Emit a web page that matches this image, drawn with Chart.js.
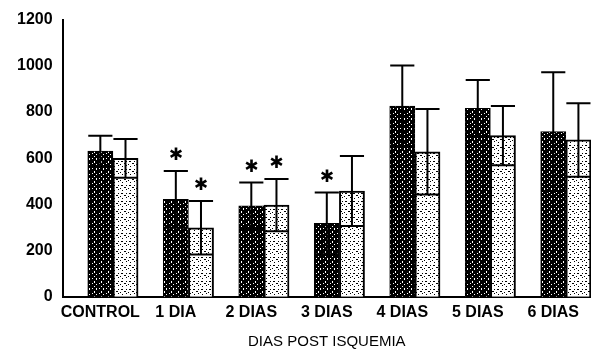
<!DOCTYPE html>
<html>
<head>
<meta charset="utf-8">
<script src="https://cdn.jsdelivr.net/npm/chart.js@4/dist/chart.umd.min.js"></script>
<style>
    html, body { margin: 0; padding: 0; background: #fff; overflow: hidden; }
    #wrap { width: 591px; height: 357px; position: relative; }
</style>
</head>
<body>
<div id="wrap"><canvas id="chart"></canvas></div>
<script>
// Data
const categories = ['CONTROL', '1 DIA', '2 DIAS', '3 DIAS', '4 DIAS', '5 DIAS', '6 DIAS'];
const darkMeans  = [631, 422, 394, 318, 826, 816, 715];
const darkSd     = [66, 123, 101, 134, 175, 123, 257];
const lightMeans = [599, 299, 397, 458, 628, 698, 679];
const lightSd    = [84, 116, 113, 151, 185, 128, 159];
const darkStar   = [false, true, true, true, false, false, false];
const lightStar  = [false, true, true, false, false, false, false];
const yTicks     = [0, 200, 400, 600, 800, 1000, 1200];

// hand-drawn tiles for the scanned hatch look
const makePattern = (rows, fg, bg) => {
    const c = document.createElement('canvas');
    c.width = rows[0].length;
    c.height = rows.length;
    const g = c.getContext('2d');
    g.fillStyle = bg;
    g.fillRect(0, 0, c.width, c.height);
    g.fillStyle = fg;
    rows.forEach((r, y) => {
        [...r].forEach((ch, x) => { if (ch === '#') g.fillRect(x, y, 1, 1); });
    });
    return g.createPattern(c, 'repeat');
};

const darkFill = makePattern([
    '.......',
    '...#...',
    '...#...',
    '.#.....',
    '.....#.',
    '.......',
    '...#...',
    '.......',
    '.#...#.',
    '.....#.'
], '#ffffff', '#000000');

const lightFill = makePattern([
    '........',
    '.##...#.',
    '........',
    '....##..',
    '#.......',
    '......#.',
    '..#.....',
    '........'
], '#000000', '#ffffff');

// error bars (mean +/- SD, both caps) and significance stars
const errorBars = {
    id: 'errorBars',
    afterDatasetsDraw(chart) {
        const ctx = chart.ctx;
        const y = chart.scales.y;
        const sets = [
            { idx: 1, means: darkMeans, sd: darkSd, stars: darkStar },
            { idx: 2, means: lightMeans, sd: lightSd, stars: lightStar }
        ];
        ctx.save();
        ctx.strokeStyle = '#000';
        ctx.fillStyle = '#000';
        ctx.lineWidth = 2;
        sets.forEach(s => {
            const meta = chart.getDatasetMeta(s.idx);
            meta.data.forEach((bar, i) => {
                const half = bar.width * 0.48;
                const top = y.getPixelForValue(s.means[i] + s.sd[i]);
                const bot = y.getPixelForValue(s.means[i] - s.sd[i]);
                ctx.beginPath();
                ctx.moveTo(bar.x, top);
                ctx.lineTo(bar.x, bot);
                ctx.moveTo(bar.x - half, top);
                ctx.lineTo(bar.x + half, top);
                ctx.moveTo(bar.x - half, bot);
                ctx.lineTo(bar.x + half, bot);
                ctx.stroke();
                if (s.stars[i]) {
                    ctx.font = 'bold 17px "DejaVu Sans"';
                    ctx.textAlign = 'center';
                    ctx.textBaseline = 'middle';
                    ctx.fillText('\u2731', bar.x, top - 15);
                }
            });
        });
        ctx.restore();
    }
};

const ctx = document.getElementById('chart');
new Chart(ctx, {
    type: 'bar',
    data: {
        labels: categories,
        datasets: [
            // empty slot that pushes each pair to the right of its label
            { label: '', data: categories.map(() => null) },
            { label: 'A', data: darkMeans, backgroundColor: darkFill, borderColor: '#000', borderWidth: 1 },
            { label: 'B', data: lightMeans, backgroundColor: lightFill, borderColor: '#000', borderWidth: 2 }
        ]
    },
    options: {
        responsive: true,
        maintainAspectRatio: false,
        animation: false,
        layout: { padding: { left: 7, top: 18, right: 0, bottom: 6 } },
        datasets: { bar: { categoryPercentage: 1, barPercentage: 1 } },
        plugins: {
            legend: { display: false },
            tooltip: { enabled: false }
        },
        scales: {
            x: {
                grid: { display: false },
                border: { display: true, color: '#000', width: 2 },
                ticks: {
                    color: '#000',
                    padding: -2,
                    maxRotation: 0,
                    autoSkip: false,
                    font: { family: '"Liberation Sans", Arial, sans-serif', size: 16, weight: 'bold' }
                },
                title: {
                    display: true,
                    text: 'DIAS POST ISQUEMIA',
                    color: '#000',
                    padding: { top: 13, bottom: 0 },
                    font: { family: '"Liberation Sans", Arial, sans-serif', size: 15 }
                }
            },
            y: {
                min: 0,
                max: 1200,
                afterBuildTicks: (scale) => { scale.ticks = yTicks.map(v => ({ value: v })); },
                grid: { display: false, drawTicks: false },
                border: { display: true, color: '#000', width: 2 },
                ticks: {
                    color: '#000',
                    padding: 10,
                    callback: (v) => String(v),
                    font: { family: '"Liberation Sans", Arial, sans-serif', size: 16, weight: 'bold' }
                }
            }
        }
    },
    plugins: [errorBars]
});
</script>
</body>
</html>
